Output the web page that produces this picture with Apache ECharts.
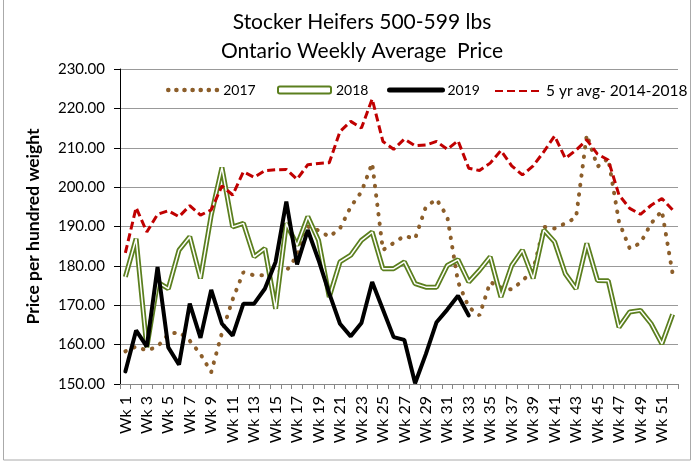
<!DOCTYPE html>
<html><head><meta charset="utf-8">
<script src="https://cdn.jsdelivr.net/npm/echarts@6/dist/echarts.min.js"></script>
<style>html,body{margin:0;padding:0;background:#fff}#c{width:694px;height:468px}</style>
</head><body><div id="c"></div>
<script>
const weeks = Array.from({length:52},(_,i)=>'Wk ' + (i+1));
const s2017 = [158.3,159.5,158.5,159.5,162.6,163.2,161,157.6,153,163,171.5,178.4,177.6,177.6,178.7,178.7,182.6,190,189,187.4,189.5,195,198.8,206.1,184,185.8,187.6,186.9,195,196.9,192.5,175.9,169.5,167.4,175.9,174.5,174,176.2,178.9,189.9,189.5,190.8,192.3,213.3,205.2,207.3,191.2,184.4,185.8,190.8,194,178];
const s2018 = [177.2,186.9,159.3,175.9,174.2,184,187.4,176.8,192.9,205,189.9,190.8,182.3,184.4,169.1,190.8,185.2,192.5,186.5,172.1,181,182.7,186.5,188.6,179.3,179.3,181,175.5,174.6,174.6,180.1,181.6,175.9,178.9,182.3,172.1,180.1,184,176.8,189.1,186.1,178,174.2,185.7,176.3,176.2,164.4,168.3,168.7,165.3,160.2,167.7];
const s2019 = [153.2,163.6,159.5,179.7,159.3,154.9,170.4,161.7,173.9,165.3,162.3,170.4,170.4,174.2,181,196.3,180.4,189.1,181.5,173,165.3,162.1,165.5,175.9,168.9,161.9,161.2,150.2,157.6,165.7,168.9,172.4,167.4];
const s5yr = [183.3,194.8,188.6,193.1,194,192.5,195.3,192.9,194.2,200.3,198,203.9,202.5,204.2,204.4,204.5,202,205.7,206,206.2,214.1,216.7,215,222.4,211.6,209.6,212.2,210.5,210.7,211.6,209.6,211.8,204.8,204.2,206.1,209.3,205.4,203.1,205.4,209,213,207.3,209.4,212,208.4,206.9,198,194.6,193.1,195.4,197.1,194.2];
const yMin = 150, yMax = 230, yStep = 10;

const FONT = 'Lato';
const GREEN = '#5b7f1e', BROWN = '#8c5e2a', RED = '#c00000';
const legTxt = {fontSize:14,fontFamily:FONT,color:'#000'};
function leg(name, left, extra){
  return Object.assign({
    top:78,left:left,itemWidth:50,itemHeight:8,
    textStyle:legTxt,itemStyle:{opacity:0},
    data:[{name:name}]
  }, extra||{});
}
const chart = echarts.init(document.getElementById('c'));
chart.setOption({
  animation:false,
  textStyle:{fontFamily:FONT},
  graphic:[
    {type:'rect',shape:{x:3.5,y:-2,width:687,height:462},style:{fill:'none',stroke:'#aaa',lineWidth:1}},
    {type:'text',x:362,y:22,style:{text:'Stocker Heifers 500-599 lbs',font:'21px '+FONT,fill:'#000',align:'center',verticalAlign:'middle'}},
    {type:'text',x:362,y:51,style:{text:'Ontario Weekly Average  Price',font:'21px '+FONT,fill:'#000',align:'center',verticalAlign:'middle'}}
  ],
  legend:[
    leg('2017',161,{lineStyle:{type:[0.1,8],width:4.5,cap:'round'}}),
    leg('2018',272,{data:[{name:'2018',icon:'roundRect',itemStyle:{opacity:1,color:'#fff',borderColor:GREEN,borderWidth:2}}],itemWidth:53,itemHeight:7}),
    leg('2019',382,{itemWidth:53,lineStyle:{width:5,cap:'round'}}),
    leg('5 yr avg- 2014-2018',489,{itemWidth:46,textStyle:{fontSize:15.5,fontFamily:FONT,color:'#000'}})
  ],
  grid:{left:120,right:16,top:69,bottom:84},
  xAxis:{
    type:'category',data:weeks,boundaryGap:true,
    axisLine:{lineStyle:{color:'#888'}},
    axisTick:{show:true,interval:0,length:5,lineStyle:{color:'#888'}},
    axisLabel:{rotate:90,interval:1,fontSize:16,color:'#000',fontFamily:FONT,margin:12}
  },
  yAxis:{
    type:'value',min:yMin,max:yMax,interval:yStep,
    name:'Price per hundred weight',nameLocation:'middle',nameGap:78,
    nameTextStyle:{fontSize:17.5,fontWeight:'bold',color:'#000',fontFamily:FONT},
    axisLine:{show:true,lineStyle:{color:'#000'}},
    axisTick:{show:true,length:6,lineStyle:{color:'#000'}},
    axisLabel:{formatter:v=>v.toFixed(2),fontSize:15,color:'#000',fontFamily:FONT,margin:15},
    splitLine:{lineStyle:{color:'#999'}}
  },
  series:[
    {name:'2017',type:'line',data:s2017,symbol:'none',z:2,
      lineStyle:{color:BROWN,width:4,type:[0.5,9],cap:'round'},itemStyle:{color:BROWN}},
    {name:'2018',type:'line',data:s2018,symbol:'none',z:3,
      lineStyle:{color:GREEN,width:5},itemStyle:{color:GREEN}},
    {name:'2018w',type:'line',data:s2018,symbol:'none',z:4,silent:true,
      lineStyle:{color:'#fff',width:1.5}},
    {name:'2019',type:'line',data:s2019,symbol:'none',z:5,
      lineStyle:{color:'#000',width:4,cap:'round'},itemStyle:{color:'#000'}},
    {name:'5 yr avg- 2014-2018',type:'line',data:s5yr,symbol:'none',z:6,
      lineStyle:{color:RED,width:3,type:[8,4]},itemStyle:{color:RED}}
  ]
});
</script></body></html>
